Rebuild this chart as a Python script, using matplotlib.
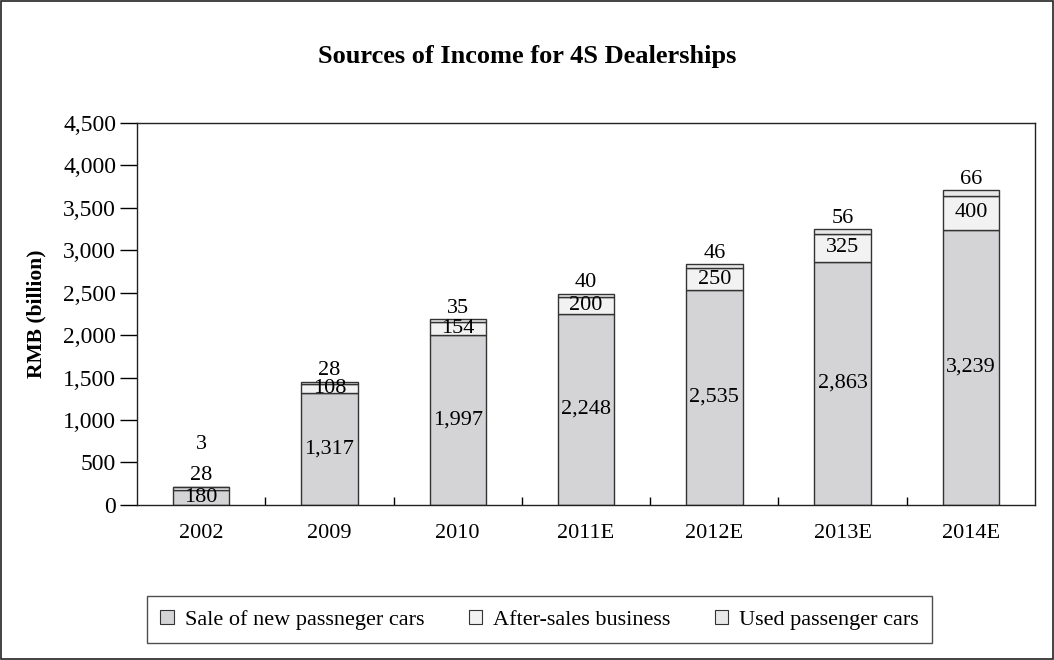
import numpy as np
import matplotlib.pyplot as plt
from matplotlib.patches import Rectangle
from matplotlib.ticker import FuncFormatter, MultipleLocator

years = ["2002", "2009", "2010", "2011E", "2012E", "2013E", "2014E"]
new_cars = [180, 1317, 1997, 2248, 2535, 2863, 3239]
after_sales = [28, 108, 154, 200, 250, 325, 400]
used_cars = [3, 28, 35, 40, 46, 56, 66]

series_names = ["Sale of new passneger cars", "After-sales business", "Used passenger cars"]
colors = ["#d4d4d6", "#f2f2f2", "#e8e8e8"]

plt.rcParams["font.family"] = ["Liberation Serif", "DejaVu Serif"]

fig = plt.figure(figsize=(10.54, 6.6), dpi=100)
ax = fig.add_axes([0.130, 0.235, 0.852, 0.579])

x = np.arange(len(years))
w = 0.44
new_cars = np.array(new_cars)
after_sales = np.array(after_sales)
used_cars = np.array(used_cars)

kw = dict(width=w, edgecolor="#333333", linewidth=1.0)
ax.bar(x, new_cars, color=colors[0], label=series_names[0], **kw)
ax.bar(x, after_sales, bottom=new_cars, color=colors[1], label=series_names[1], **kw)
ax.bar(x, used_cars, bottom=new_cars + after_sales, color=colors[2], label=series_names[2], **kw)

fs = 16
for i in range(len(years)):
    top = new_cars[i] + after_sales[i] + used_cars[i]
    ax.text(x[i], new_cars[i] / 2, f"{new_cars[i]:,}", ha="center", va="center", fontsize=fs)
    if after_sales[i] < 80:
        # segment too thin, put labels above the bar
        ax.text(x[i], top + 20, f"{after_sales[i]:,}", ha="center", va="bottom", fontsize=fs)
        ax.text(x[i], top + 390, f"{used_cars[i]:,}", ha="center", va="bottom", fontsize=fs)
    else:
        ax.text(x[i], new_cars[i] + after_sales[i] / 2, f"{after_sales[i]:,}",
                ha="center", va="center", fontsize=fs)
        ax.text(x[i], top + 15, f"{used_cars[i]:,}", ha="center", va="bottom", fontsize=fs)

ax.set_xlim(-0.5, len(years) - 0.5)
ax.set_ylim(0, 4500)
ax.yaxis.set_major_locator(MultipleLocator(500))
ax.yaxis.set_major_formatter(FuncFormatter(lambda v, p: f"{int(v):,}"))
ax.set_xticks(x)
ax.set_xticklabels(years)
ax.set_xticks(np.arange(0.5, len(years) - 0.5, 1), minor=True)
ax.tick_params(axis="x", which="major", length=0, pad=14, labelsize=16)
ax.tick_params(axis="x", which="minor", direction="in", length=6, width=1)
ax.tick_params(axis="y", direction="out", length=12, width=1, labelsize=17, pad=3)
for s in ax.spines.values():
    s.set_linewidth(1.0)
    s.set_color("#222222")

ax.set_ylabel("RMB (billion)", fontsize=15.5, fontweight="bold", labelpad=12)
fig.text(0.5, 0.914, "Sources of Income for 4S Dealerships", ha="center", va="center",
         fontsize=19, fontweight="bold")

leg = fig.legend(loc="center", bbox_to_anchor=(0.512, 0.061), ncol=3, fontsize=16,
                 frameon=True, fancybox=False, edgecolor="#222222", handlelength=0.6,
                 handleheight=0.6, handletextpad=0.5, columnspacing=2.0, borderpad=0.6)
leg.get_frame().set_linewidth(1.0)
for h in leg.legend_handles:
    h.set_edgecolor("#333333")
    h.set_linewidth(0.8)

fig.patches.append(Rectangle((0.001, 0.001), 0.998, 0.998, transform=fig.transFigure,
                             fill=False, edgecolor="#222222", linewidth=1.2))

fig.savefig("out.png", dpi=100)
